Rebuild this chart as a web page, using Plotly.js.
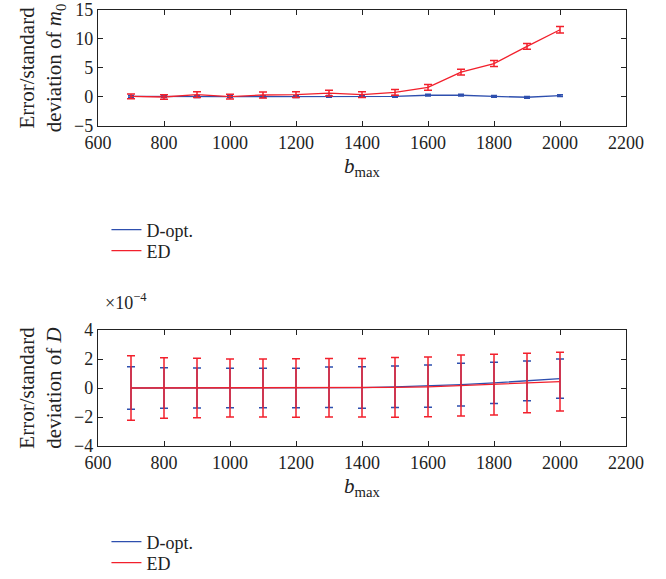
<!DOCTYPE html>
<html><head><meta charset="utf-8">
<script src="https://cdn.plot.ly/plotly-3.0.1.min.js"></script>
<style>html,body{margin:0;padding:0;background:#fff}#plot{width:666px;height:579px}</style>
</head><body><div id="plot"></div>
<script>
const bmax = [700,800,900,1000,1100,1200,1300,1400,1500,1600,1700,1800,1900,2000];
// top panel: error/std of m0
const m0_dopt = [0.1,0.05,0.05,0.05,0.05,0.05,0.1,0.1,0.1,0.3,0.3,0.1,-0.05,0.25];
const m0_dopt_err = [0.15,0.15,0.15,0.15,0.15,0.15,0.15,0.15,0.15,0.15,0.15,0.15,0.15,0.15];
const m0_ed = [0.1,0.0,0.4,0.05,0.34,0.4,0.68,0.4,0.8,1.67,4.28,5.77,8.73,11.6];
const m0_ed_err = [0.4,0.4,0.5,0.4,0.5,0.5,0.5,0.5,0.5,0.5,0.5,0.5,0.5,0.55];
// bottom panel: error/std of D (units of 1e-4)
const D_dopt = [0,0,0,0,0,0,0.05,0.03,0.08,0.13,0.23,0.35,0.49,0.65];
const D_dopt_err = [1.47,1.4,1.38,1.36,1.36,1.37,1.4,1.43,1.43,1.45,1.47,1.42,1.37,1.35];
const D_ed = [0,0,0,0,0,0,0.02,0.02,0.04,0.08,0.17,0.23,0.35,0.44];
const D_ed_err = [2.22,2.09,2.05,2.0,2.0,2.02,2.02,2.02,2.06,2.06,2.1,2.09,2.05,2.02];

const BLUE = '#2e4fae', RED = '#f2202c';
const FONT = 'Liberation Serif, Times New Roman, serif';

function tr(y, err, color, name, xa, ya, leg, cap) {
  return {x: bmax, y: y, type: 'scatter', mode: 'lines', name: name,
    line: {color: color, width: 1.3}, xaxis: xa, yaxis: ya, legend: leg,
    error_y: {type: 'data', array: err, visible: true, color: color, thickness: 1.5, width: cap}};
}
const data = [
  tr(m0_dopt, m0_dopt_err, BLUE, 'D-opt.', 'x', 'y', 'legend', 3),
  tr(m0_ed, m0_ed_err, RED, 'ED', 'x', 'y', 'legend2', 4),
  tr(D_dopt, D_dopt_err, BLUE, 'D-opt.', 'x2', 'y2', 'legend3', 4),
  tr(D_ed, D_ed_err, RED, 'ED', 'x2', 'y2', 'legend4', 4)
];
const ax = {showline: true, mirror: 'ticks', linecolor: '#222', linewidth: 1.2,
  ticks: 'inside', ticklen: 5, tickcolor: '#222', showgrid: false, zeroline: false,
  tickfont: {family: FONT, size: 18, color: '#222'}};
const xax = Object.assign({}, ax, {range: [600, 2200], tickvals: [600,800,1000,1200,1400,1600,1800,2000,2200],
  title: {text: '<i>b</i><sub>max</sub>', font: {family: FONT, size: 21, color: '#222'}, standoff: 6}});
const legf = {font: {family: FONT, size: 18, color: '#222'}, bgcolor: 'rgba(0,0,0,0)', borderwidth: 0,
  xanchor: 'left', yanchor: 'middle', tracegroupgap: 0, itemwidth: 30, yref: 'container', x: 0.016};
const ytf = {family: FONT, size: 21, color: '#222'};
const layout = {
  width: 666, height: 579, margin: {l: 98, r: 40, t: 10, b: 133, autoexpand: false},
  paper_bgcolor: '#fff', plot_bgcolor: '#fff', showlegend: true,
  xaxis: Object.assign({}, xax, {anchor: 'y'}),
  yaxis: Object.assign({}, ax, {domain: [0.734, 1], range: [-5, 15], tickvals: [-5,0,5,10,15],
    ticktext: ['\u22125','0','5','10','15'], anchor: 'x',
    title: {text: 'Error/standard<br>deviation of <i>m</i><sub>0</sub>', font: ytf, standoff: 6}}),
  xaxis2: Object.assign({}, xax, {anchor: 'y2'}),
  yaxis2: Object.assign({}, ax, {domain: [0, 0.266], range: [-4, 4], tickvals: [-4,-2,0,2,4],
    ticktext: ['\u22124','\u22122','0','2','4'], anchor: 'x2',
    title: {text: 'Error/standard<br>deviation of <i>D</i>', font: ytf, standoff: 6}}),
  legend: Object.assign({}, legf, {y: 1 - 230/579}),
  legend2: Object.assign({}, legf, {y: 1 - 251/579}),
  legend3: Object.assign({}, legf, {y: 1 - 542/579}),
  legend4: Object.assign({}, legf, {y: 1 - 563/579}),
  annotations: [{text: '\u00d710<sup>\u22124</sup>', xref: 'paper', yref: 'paper', x: 0.01, y: 0.3,
    xanchor: 'left', yanchor: 'bottom', showarrow: false, font: {family: FONT, size: 18, color: '#222'}}]
};
Plotly.newPlot('plot', data, layout, {displayModeBar: false, staticPlot: true});
</script></body></html>
